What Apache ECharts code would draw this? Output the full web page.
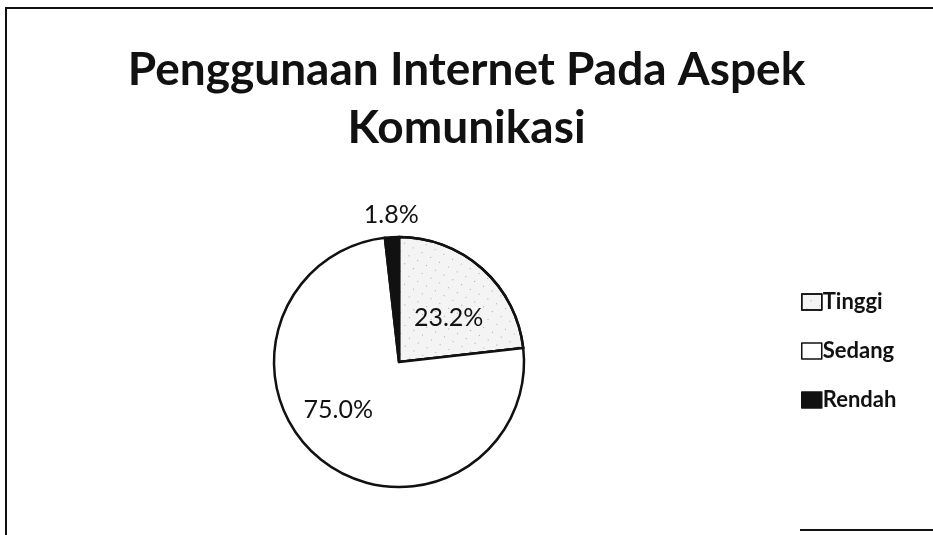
<!DOCTYPE html>
<html>
<head>
<meta charset="utf-8">
<script src="https://cdn.jsdelivr.net/npm/echarts@6.0.0/dist/echarts.min.js"></script>
</head>
<body style="margin:0; padding:0; background:#fff;">
<div id="chart" style="width:933px; height:535px;"></div>
<script type="text/javascript">
// data
var categories = ['Tinggi', 'Sedang', 'Rendah'];
var values = [23.2, 75.0, 1.8];
var fills = ['#f4f4f4', '#ffffff', '#111111'];

var chart = echarts.init(document.getElementById('chart'));

var pieData = categories.map(function (name, i) {
	var item = {
		name: name,
		value: values[i],
		itemStyle: { color: fills[i] }
	};
	if (name === 'Tinggi') {
		item.itemStyle.decal = {
			symbol: 'circle',
			symbolSize: 0.35,
			color: 'rgba(0,0,0,0.4)',
			dashArrayX: [[3, 7]],
			dashArrayY: [3, 6],
			rotation: 0.5
		};
		item.label = { offset: [6, 5] };
	}
	if (name === 'Sedang') {
		item.label = { offset: [-20, -3] };
	}
	if (name === 'Rendah') {
		item.label = { offset: [-4, -82] };
	}
	return item;
});

var option = {
	backgroundColor: '#ffffff',
	animation: false,
	aria: { enabled: true, decal: { show: false } },
	title: {
		text: 'Penggunaan Internet Pada Aspek\nKomunikasi',
		left: 'center',
		top: 36,
		textStyle: {
			fontFamily: 'Lato',
			fontWeight: 'bold',
			fontSize: 46,
			lineHeight: 58,
			color: '#111'
		}
	},
	legend: {
		orient: 'vertical',
		left: 796,
		top: 286,
		itemGap: 27,
		itemWidth: 20,
		itemHeight: 16,
		icon: 'rect',
		itemStyle: { borderColor: '#111', borderWidth: 1.5 },
		textStyle: {
			fontFamily: 'Lato',
			fontWeight: 'bold',
			fontSize: 22,
			color: '#111',
			padding: [0, 0, 0, -4]
		},
		data: categories
	},
	graphic: [{
		type: 'polyline',
		silent: true,
		shape: { points: [[6, 535], [6, 8], [933, 8]] },
		style: { stroke: '#111', lineWidth: 2, fill: null }
	}, {
		type: 'line',
		silent: true,
		shape: { x1: 800, y1: 530, x2: 933, y2: 530 },
		style: { stroke: '#111', lineWidth: 2 }
	}],
	series: [{
		type: 'pie',
		center: [399, 362],
		radius: [0, 125],
		startAngle: 90,
		clockwise: true,
		avoidLabelOverlap: false,
		itemStyle: { borderColor: '#111', borderWidth: 2.5 },
		label: {
			show: true,
			position: 'inside',
			formatter: function (p) { return p.value.toFixed(1) + '%'; },
			fontFamily: 'Lato',
			fontSize: 25,
			color: '#111'
		},
		labelLine: { show: false },
		emphasis: { disabled: true },
		data: pieData
	}]
};

chart.setOption(option);
</script>
</body>
</html>
